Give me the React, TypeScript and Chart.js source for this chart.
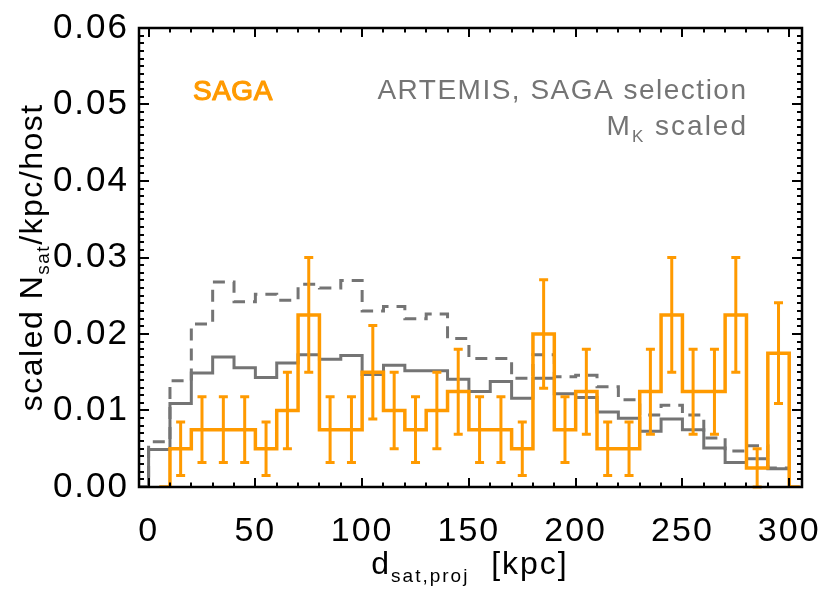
import React, { useEffect, useRef } from "react";
import { Chart, registerables } from "chart.js";

Chart.register(...registerables);

// ---------------- data ----------------
const binCenters = [5, 15, 25, 35, 45, 55, 65, 75, 85, 95, 105, 115, 125, 135, 145, 155, 165, 175, 185, 195, 205, 215, 225, 235, 245, 255, 265, 275, 285, 295];
const binWidth = 10;

const sagaValues = [0, 0.005, 0.0075, 0.0075, 0.0075, 0.005, 0.01, 0.0225, 0.0075, 0.0075, 0.015, 0.01, 0.0075, 0.01, 0.0125, 0.0075, 0.0075, 0.005, 0.02, 0.0075, 0.0125, 0.005, 0.005, 0.0125, 0.0225, 0.0125, 0.0125, 0.0225, 0.0025, 0.0175];
const sagaErrLow = [null, 0.0015, 0.0032, 0.0032, 0.0032, 0.0015, 0.005, 0.015, 0.0032, 0.0032, 0.0089, 0.005, 0.0032, 0.005, 0.0069, 0.0032, 0.0032, 0.0015, 0.0129, 0.0032, 0.0069, 0.0015, 0.0015, 0.0069, 0.015, 0.0069, 0.0069, 0.015, 0.0, 0.0109];
const sagaErrHigh = [null, 0.0085, 0.0118, 0.0118, 0.0118, 0.0085, 0.015, 0.03, 0.0118, 0.0118, 0.0211, 0.015, 0.0118, 0.015, 0.018, 0.0118, 0.0118, 0.0085, 0.0271, 0.0118, 0.018, 0.0085, 0.0085, 0.018, 0.03, 0.018, 0.018, 0.03, 0.005, 0.0241];

const artemisValues = [0.0049, 0.0109, 0.0149, 0.017, 0.0156, 0.0143, 0.0162, 0.0173, 0.0167, 0.0172, 0.0147, 0.0159, 0.0152, 0.0152, 0.0141, 0.0125, 0.0138, 0.0116, 0.0142, 0.0122, 0.0117, 0.0098, 0.009, 0.0073, 0.0089, 0.0075, 0.0051, 0.0032, 0.0037, 0.0024];
const artemisMkScaled = [0.0059, 0.0139, 0.0213, 0.0268, 0.0242, 0.0252, 0.0244, 0.0265, 0.026, 0.027, 0.023, 0.0236, 0.022, 0.0226, 0.0194, 0.0168, 0.0168, 0.0142, 0.0173, 0.0144, 0.0146, 0.0131, 0.0114, 0.0094, 0.0107, 0.0094, 0.0064, 0.0047, 0.0054, 0.0025];

const xTickValues = [0, 50, 100, 150, 200, 250, 300];
const yTickValues = [0, 0.01, 0.02, 0.03, 0.04, 0.05, 0.06];

const X_MIN = -4.5;
const X_MAX = 306;
const Y_MIN = 0;
const Y_MAX = 0.06;

// target plot frame (pixels)
const AREA = { left: 139, top: 28, right: 802, bottom: 487 };

const ORANGE = "#ff9a00";
const GREY = "#747474";
const FONT = "'Liberation Sans', Arial, sans-serif";

// psym=10 style (centred steps) for SAGA
const sagaPoints = binCenters
  .map((c, i) => ({ x: c, y: sagaValues[i] }))
  .concat([{ x: binCenters[binCenters.length - 1] + binWidth, y: 0 }]);

// edge-based steps for ARTEMIS (value holds until the next edge)
function edgeSteps(vals: number[]) {
  const pts = [{ x: binCenters[0] - binWidth, y: 0 }];
  binCenters.forEach((c, i) => pts.push({ x: c - binWidth / 2, y: vals[i] }));
  pts.push({ x: binCenters[binCenters.length - 1] + binWidth / 2, y: vals[vals.length - 1] });
  return pts;
}

function drawRich(
  ctx: CanvasRenderingContext2D,
  parts: { t: string; size: number; dy: number }[],
  x: number,
  y: number,
  align: "left" | "center" | "right",
  color: string,
  spacing = 0,
  strokeW = 0
) {
  ctx.save();
  ctx.fillStyle = color;
  ctx.strokeStyle = color;
  ctx.lineWidth = strokeW;
  ctx.lineJoin = "round";
  ctx.textBaseline = "alphabetic";
  ctx.textAlign = "left";
  (ctx as any).letterSpacing = spacing + "px";
  let total = 0;
  const widths = parts.map((p) => {
    ctx.font = `normal ${p.size}px ${FONT}`;
    const w = ctx.measureText(p.t).width;
    total += w;
    return w;
  });
  total -= spacing;
  let cx = align === "left" ? x : align === "center" ? x - total / 2 : x - total;
  parts.forEach((p, i) => {
    ctx.font = `normal ${p.size}px ${FONT}`;
    ctx.fillText(p.t, cx, y + p.dy);
    if (strokeW > 0) ctx.strokeText(p.t, cx, y + p.dy);
    cx += widths[i];
  });
  ctx.restore();
}

const spacingPlugin = {
  id: "tickSpacing",
  beforeLayout(chart: any) {
    (chart.ctx as any).letterSpacing = "2px";
  },
  beforeDraw(chart: any) {
    (chart.ctx as any).letterSpacing = "2px";
  },
};

const errorBarPlugin = {
  id: "errorBars",
  afterDatasetsDraw(chart: any) {
    const { ctx, scales } = chart;
    const xs = scales.x;
    const ys = scales.y;
    ctx.save();
    ctx.strokeStyle = ORANGE;
    ctx.lineWidth = 3;
    ctx.lineCap = "butt";
    binCenters.forEach((c, i) => {
      const lo = sagaErrLow[i];
      const hi = sagaErrHigh[i];
      if (lo === null || hi === null) return;
      const px = xs.getPixelForValue(c);
      const pLo = ys.getPixelForValue(lo);
      const pHi = ys.getPixelForValue(hi);
      ctx.beginPath();
      ctx.moveTo(px, pLo);
      ctx.lineTo(px, pHi);
      ctx.moveTo(px - 4.5, pLo);
      ctx.lineTo(px + 4.5, pLo);
      ctx.moveTo(px - 4.5, pHi);
      ctx.lineTo(px + 4.5, pHi);
      ctx.stroke();
    });
    ctx.restore();
  },
};

const framePlugin = {
  id: "idlFrame",
  afterDraw(chart: any) {
    const { ctx, chartArea, scales } = chart;
    const { left, right, top, bottom } = chartArea;
    const xs = scales.x;
    const ys = scales.y;
    ctx.save();
    (ctx as any).letterSpacing = "0px";
    ctx.strokeStyle = "#000";
    ctx.lineWidth = 2.5;
    ctx.strokeRect(left, top, right - left, bottom - top);
    ctx.lineWidth = 2;
    ctx.beginPath();
    for (let v = 0; v <= X_MAX + 0.001; v += 10) {
      const px = Math.round(xs.getPixelForValue(v));
      const major = v % 50 === 0;
      const len = major ? 9 : 4.5;
      ctx.moveTo(px, bottom);
      ctx.lineTo(px, bottom - len);
      ctx.moveTo(px, top);
      ctx.lineTo(px, top + len);
    }
    for (let k = 0; k <= 60; k++) {
      const py = Math.round(ys.getPixelForValue(k * 0.001));
      const major = k % 10 === 0;
      const len = major ? 10 : 5;
      ctx.moveTo(left, py);
      ctx.lineTo(left + len, py);
      ctx.moveTo(right, py);
      ctx.lineTo(right - len, py);
    }
    ctx.stroke();
    ctx.restore();

    // axis titles
    ctx.save();
    ctx.translate(42, 258);
    ctx.rotate(-Math.PI / 2);
    drawRich(ctx, [
      { t: "scaled N", size: 32, dy: 0 },
      { t: "sat", size: 19, dy: 7 },
      { t: "/kpc/host", size: 32, dy: 0 },
    ], 0, 0, "center", "#000", 1.5);
    ctx.restore();

    drawRich(ctx, [
      { t: "d", size: 32, dy: 0 },
      { t: "sat,proj", size: 19, dy: 8 },
      { t: "  [kpc]", size: 32, dy: 0 },
    ], 469, 574, "center", "#000", 2);

    // legend texts
    drawRich(ctx, [{ t: "SAGA", size: 28, dy: 0 }], 193, 100, "left", ORANGE, 0.5, 1.2);
    drawRich(ctx, [{ t: "ARTEMIS, SAGA selection", size: 28, dy: 0 }], 746, 99, "right", GREY, 1.5);
    drawRich(ctx, [
      { t: "M", size: 28, dy: 0 },
      { t: "K", size: 17, dy: 7 },
      { t: " scaled", size: 28, dy: 0 },
    ], 746, 135, "right", GREY, 2);
  },
};

export default function App() {
  const canvasRef = useRef<HTMLCanvasElement | null>(null);

  useEffect(() => {
    if (!canvasRef.current) return;
    const chart = new Chart(canvasRef.current, {
      type: "line",
      data: {
        datasets: [
          {
            label: "SAGA",
            data: sagaPoints,
            borderColor: ORANGE,
            borderWidth: 3.5,
            stepped: "middle",
            pointRadius: 0,
            fill: false,
          },
          {
            label: "ARTEMIS, SAGA selection",
            data: edgeSteps(artemisValues),
            borderColor: GREY,
            borderWidth: 3,
            stepped: "before",
            pointRadius: 0,
            fill: false,
          },
          {
            label: "ARTEMIS, M_K scaled",
            data: edgeSteps(artemisMkScaled),
            borderColor: GREY,
            borderWidth: 3,
            borderDash: [12, 8],
            stepped: "before",
            pointRadius: 0,
            fill: false,
          },
        ],
      },
      options: {
        responsive: false,
        animation: false,
        events: [],
        layout: { padding: { top: AREA.top, right: 830 - AREA.right, left: 0, bottom: 0 } },
        plugins: {
          legend: { display: false },
          tooltip: { enabled: false },
          title: { display: false },
        },
        scales: {
          x: {
            type: "linear",
            min: X_MIN,
            max: X_MAX,
            grid: { display: false },
            border: { display: false },
            afterBuildTicks: (s: any) => {
              s.ticks = xTickValues.map((v) => ({ value: v }));
            },
            afterFit: (s: any) => {
              s.height = 594 - AREA.bottom;
              s.paddingLeft = 0;
              s.paddingRight = 0;
            },
            ticks: {
              autoSkip: false,
              maxRotation: 0,
              padding: 16,
              color: "#000",
              font: { family: FONT, size: 34 },
              callback: (v: any) => String(v),
            },
          },
          y: {
            type: "linear",
            min: Y_MIN,
            max: Y_MAX,
            grid: { display: false },
            border: { display: false },
            afterBuildTicks: (s: any) => {
              s.ticks = yTickValues.map((v) => ({ value: v }));
            },
            afterFit: (s: any) => {
              s.width = AREA.left;
              s.paddingTop = 0;
              s.paddingBottom = 0;
            },
            ticks: {
              padding: 2,
              color: "#000",
              font: { family: FONT, size: 35 },
              callback: (v: any) => Number(v).toFixed(2),
            },
          },
        },
      },
      plugins: [spacingPlugin, errorBarPlugin, framePlugin],
    });
    // correct any residual automatic padding so the frame lands on the target box
    const ca = chart.chartArea;
    const pad: any = chart.options.layout!.padding;
    if (Math.abs(ca.right - AREA.right) > 0.5 || Math.abs(ca.top - AREA.top) > 0.5) {
      chart.options.layout!.padding = {
        top: pad.top + (AREA.top - ca.top),
        right: pad.right + (ca.right - AREA.right),
        left: pad.left + (AREA.left - ca.left),
        bottom: pad.bottom + (ca.bottom - AREA.bottom),
      };
      chart.update();
    }
    return () => chart.destroy();
  }, []);

  return (
    <div style={{ position: "absolute", left: 0, top: 0, width: 830, height: 594, background: "#fff" }}>
      <canvas ref={canvasRef} width={830} height={594} style={{ display: "block" }} />
    </div>
  );
}
